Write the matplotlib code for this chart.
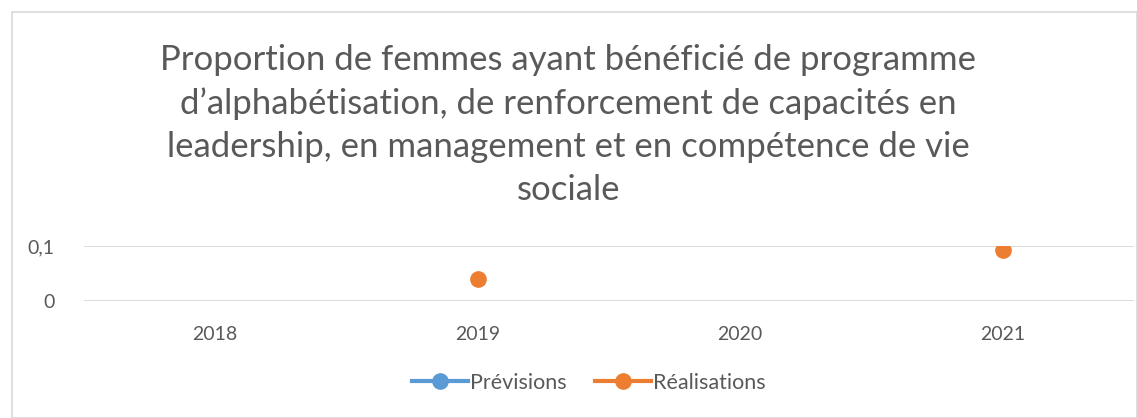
import matplotlib
matplotlib.use("Agg")
import matplotlib.pyplot as plt
import numpy as np
from matplotlib.patches import Rectangle

plt.rcParams["font.family"] = ["Lato", "DejaVu Sans"]

years = ["2018", "2019", "2020", "2021"]
previsions = [np.nan, np.nan, np.nan, np.nan]
realisations = [np.nan, 0.04, np.nan, 0.092]
y_ticks = [0, 0.1]
y_tick_labels = ["0", "0,1"]

title = ("Proportion de femmes ayant bénéficié de programme\n"
         "d’alphabétisation, de renforcement de capacités en\n"
         "leadership, en management et en compétence de vie\n"
         "sociale")

TEXT = "#595959"
GRID = "#d9d9d9"
BLUE = "#5b9bd5"
ORANGE = "#ed7d31"

fig = plt.figure(figsize=(11.37, 4.18), dpi=100)
fig.patches.append(Rectangle((12 / 1137, 0), 1 - 12 / 1137, 1 - 12 / 418,
                             transform=fig.transFigure, fill=False,
                             edgecolor=GRID, lw=1.2))

ax = fig.add_axes([84 / 1137, 1 - 301 / 418, 1050 / 1137, 55 / 418])
x = np.arange(len(years))
ax.plot(x, previsions, "-o", color=BLUE, lw=3, ms=11, label="Prévisions")
ax.plot(x, realisations, "-o", color=ORANGE, lw=3, ms=11, label="Réalisations")

ax.set_xlim(-0.5, 3.5)
ax.set_ylim(0, 0.1)
ax.set_xticks(x)
ax.set_xticklabels(years)
ax.set_yticks(y_ticks)
ax.set_yticklabels(y_tick_labels)
ax.tick_params(length=0, colors=TEXT, labelsize=14)
ax.tick_params(axis="x", pad=18)
ax.tick_params(axis="y", pad=21)
ax.grid(axis="y", color=GRID, lw=1.3)
ax.set_axisbelow(True)
for s in ax.spines.values():
    s.set_visible(False)
for t in ax.get_yticklabels() + ax.get_xticklabels():
    t.set_clip_on(False)

fig.text(0.5, 1 - 125 / 418, title, ha="center", va="center", color=TEXT,
         fontsize=25, linespacing=1.43)

leg = fig.legend(loc="center", bbox_to_anchor=(589 / 1137, 1 - 383 / 418), ncol=2,
                 frameon=False, fontsize=15.5, handlelength=2.6,
                 handletextpad=0.1, columnspacing=1.3)
for t in leg.get_texts():
    t.set_color(TEXT)

fig.savefig("out.png", dpi=100)
